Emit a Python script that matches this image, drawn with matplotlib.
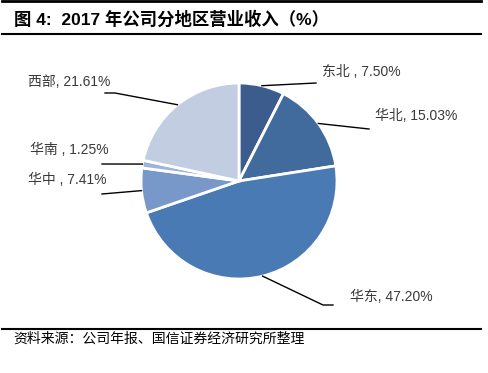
import matplotlib.pyplot as plt
from matplotlib.lines import Line2D
import numpy as np

plt.rcParams['font.family'] = ['Liberation Sans', 'Noto Sans CJK SC', 'DejaVu Sans']

# 数据
regions = ['东北', '华北', '华东', '华中', '华南', '西部']
shares = [7.50, 15.03, 47.20, 7.41, 1.25, 21.61]
label_sep = [' , ', ', ', ', ', ' , ', ' , ', ', ']
colors = ['#3b5c8c', '#416a9d', '#4a7ab4', '#7798c8', '#9fb4d8', '#c3cde2']

title = '图 4:  2017 年公司分地区营业收入（%）'
source = '资料来源：公司年报、国信证券经济研究所整理'

W, H = 489, 373
fig = plt.figure(figsize=(W / 100, H / 100), dpi=100)
ax = fig.add_axes([0, 0, 1, 1])

cx, cy, r = 239, H - 181, 98
wedges, _ = ax.pie(shares, colors=colors, startangle=90, counterclock=False,
                   center=(cx, cy), radius=r, frame=True,
                   wedgeprops=dict(edgecolor='white', linewidth=2))
ax.set_xlim(0, W)
ax.set_ylim(0, H)
ax.set_aspect('equal')
ax.set_axis_off()

# 标签位置（图像像素坐标）与引线折点
text_pos = [(322, 72), (375, 116), (350, 297), (28, 180), (30, 150), (28, 82)]
elbows = [[(316, 83)], [(369, 129)], [(323, 305), (333, 305)],
          [(102, 194)], [(102, 164)], [(115, 93), (105, 93)]]

for w, name, v, sep, tp, el in zip(wedges, regions, shares, label_sep, text_pos, elbows):
    ang = np.deg2rad((w.theta1 + w.theta2) / 2)
    px, py = cx + r * np.cos(ang), cy + r * np.sin(ang)
    xs = [px] + [e[0] for e in el]
    ys = [py] + [H - e[1] for e in el]
    ax.plot(xs, ys, color='black', lw=1)
    ax.text(tp[0], H - tp[1], f'{name}{sep}{v:.2f}%', fontsize=10,
            color='#3a3a3a', va='center', ha='left')

# 标题与来源
fig.text(14 / W, 1 - 19 / H, title, fontsize=12.5, fontweight='bold',
         va='center', ha='left')
fig.text(13 / W, 1 - 339 / H, source, fontsize=10, va='center', ha='left')
for yy, lw in [(1, 2), (34, 1.5), (329, 1.5)]:
    fig.add_artist(Line2D([2 / W, 481 / W], [1 - yy / H, 1 - yy / H],
                          color='black', lw=lw))

plt.savefig('out.png', dpi=100)
